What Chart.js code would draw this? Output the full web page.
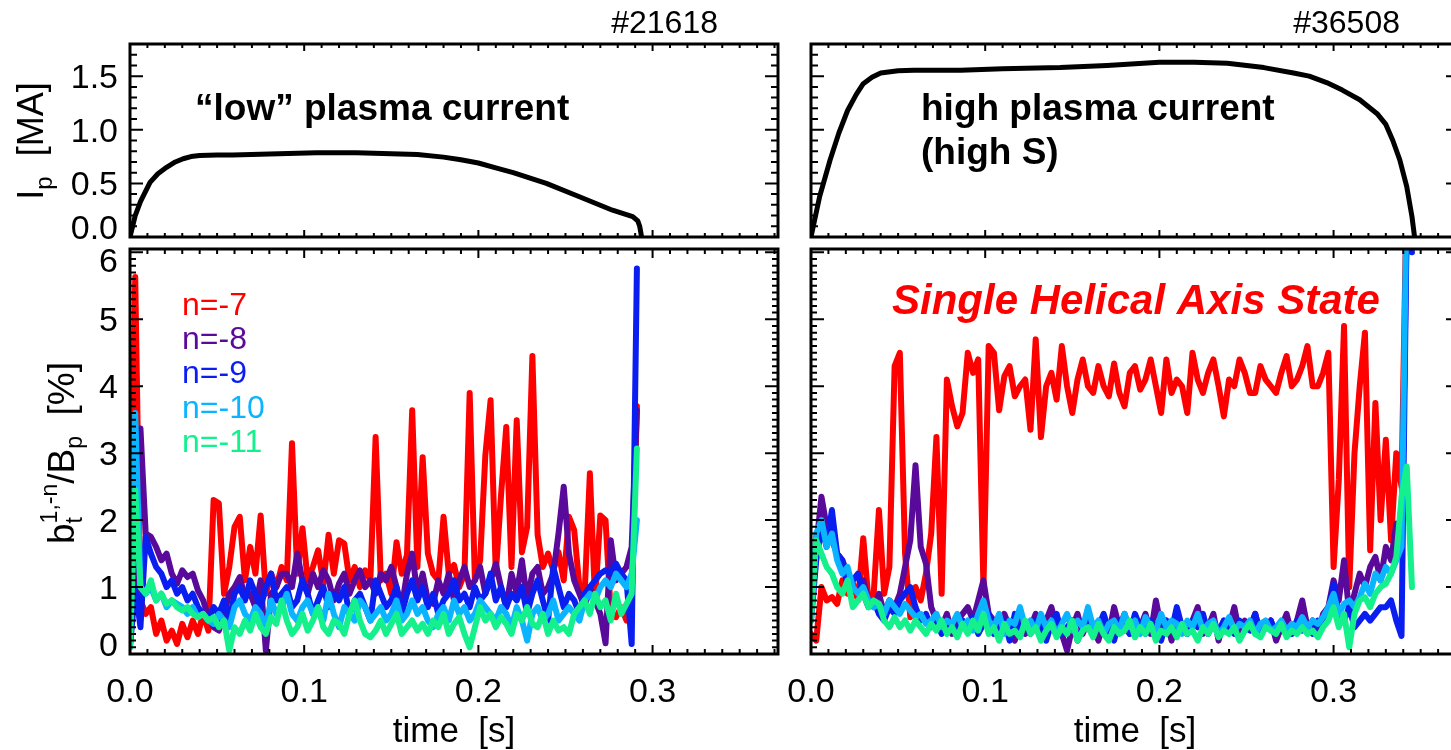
<!DOCTYPE html>
<html>
<head>
<meta charset="utf-8">
<script src="https://cdn.jsdelivr.net/npm/chart.js@4.4.1/dist/chart.umd.min.js"></script>
<style>
  html, body { margin: 0; padding: 0; background: #fff; overflow: hidden; }
  #wrap { position: relative; width: 1451px; height: 750px; overflow: hidden; }
  #wrap canvas { position: absolute; left: 0; top: 0; }
</style>
</head>
<body>
<div id="wrap">
  <canvas id="topL" width="1470" height="750"></canvas>
  <canvas id="botL" width="1470" height="750"></canvas>
  <canvas id="topR" width="1470" height="750"></canvas>
  <canvas id="botR" width="1470" height="750"></canvas>
</div>
<script>
// ---- shot #21618 ("low" current) ----
// sample times for the mode amplitudes, in ms
var tL_ms = [0,3,6,9,12,15,18,21,24,27,30,33,36,39,42,45,48,51,54,57,60,63,66,69,72,75,78,81,84,87,90,93,96,99,
  102,105,108,111,114,117,120,123,126,129,132,135,138,141,144,147,150,153,156,159,162,165,168,171,174,177,180,183,186,189,192,195,198,
  201,204,207,210,213,216,219,222,225,228,231,234,237,240,243,246,249,252,255,258,261,264,267,270,273,276,279,282,285,288,291];

// b_t^(1,n)/B_p in %
var n7L = [0.3,5.63,0.8,0.6,0.7,0.3,0.5,0.2,0.35,0.15,
  0.45,0.25,0.5,0.3,0.6,0.35,2.3,2.25,0.9,1.3,
  1.9,2.05,1.1,1.6,1.2,2.07,0.9,1.2,1.0,1.3,
  1.1,3.15,1.2,1.88,1.1,1.3,1.55,1.05,1.78,1.2,
  1.7,1.65,1.1,1.3,1.0,1.25,1.1,3.24,1.1,1.2,
  0.9,1.67,1.2,1.48,3.64,1.3,2.94,1.5,1.2,1.1,
  2.05,1.2,1.33,1.0,1.2,3.9,1.1,1.4,2.97,3.79,
  1.2,2.37,3.39,1.3,3.49,1.52,1.9,4.45,1.78,1.3,
  1.5,1.25,1.52,1.1,2.05,1.85,1.0,0.9,2.7,0.8,
  2.07,2.0,0.6,0.55,0.7,0.5,0.8,3.7];
var n8L = [0.2,1.2,3.37,1.8,1.75,1.6,1.4,1.5,1.2,1.05,
  1.25,1.15,1.2,0.95,0.8,0.55,0.4,0.35,0.6,0.9,
  1.0,1.15,0.85,0.9,0.7,1.1,0.05,0.9,1.0,1.2,
  1.2,1.0,1.5,1.1,0.9,1.2,1.0,1.25,1.1,0.8,
  1.05,1.2,0.9,1.1,1.25,1.0,1.1,0.9,1.2,1.1,
  1.3,1.0,0.7,1.2,1.5,0.9,1.2,0.8,0.75,1.1,
  0.9,1.2,0.8,1.1,1.3,1.0,1.1,1.3,0.9,1.1,
  1.35,1.0,0.7,1.2,0.9,1.4,0.8,1.2,1.3,0.9,
  1.0,1.2,1.8,2.5,1.5,1.1,0.9,0.7,1.0,0.8,
  0.6,0.16,1.7,1.1,1.2,1.3,1.6,3.64];
var n9L = [0.1,1.0,0.4,1.75,1.5,1.3,1.2,1.0,1.1,0.9,
  1.0,0.8,0.9,0.7,0.6,0.5,0.7,0.6,0.8,0.5,
  0.9,1.0,0.8,1.1,0.9,0.7,1.0,1.2,0.8,0.9,
  1.0,0.7,0.8,1.1,0.9,0.6,0.8,1.0,0.7,0.9,
  0.8,1.0,0.6,0.8,0.9,0.7,0.5,1.1,0.9,0.7,
  0.8,1.0,0.6,0.9,1.1,0.8,1.0,0.7,0.9,0.6,
  0.8,0.9,1.1,0.8,0.9,0.7,1.0,0.8,0.9,1.2,
  0.8,1.0,0.7,0.9,0.8,1.0,0.6,0.9,1.1,0.8,
  0.5,1.3,1.0,0.7,0.9,0.8,0.6,0.9,1.0,1.1,
  1.2,1.25,1.2,1.35,1.2,1.1,0.15,5.76];
var n10L = [0.2,3.6,1.0,0.9,1.0,0.8,0.9,0.7,0.8,0.75,
  0.7,0.6,0.7,0.55,0.6,0.5,0.45,0.6,0.5,0.4,
  0.7,0.8,0.6,0.5,0.7,0.6,0.4,0.8,0.6,0.7,
  0.9,0.6,0.5,0.7,0.8,0.6,0.7,0.5,0.9,0.6,
  0.4,0.7,0.6,0.5,0.8,0.7,0.5,0.6,0.7,0.5,
  0.6,0.8,0.5,0.6,0.8,0.6,0.7,0.5,0.4,0.6,
  0.7,0.5,0.8,0.6,0.7,0.5,0.6,0.8,0.7,0.6,
  0.5,0.7,0.6,0.4,0.7,0.5,0.2,0.6,0.7,0.5,
  0.6,0.8,0.5,0.6,0.7,0.6,0.5,0.8,0.9,0.8,
  1.0,1.1,1.0,1.2,1.1,1.0,1.2,2.0];
var n11L = [0.1,2.45,1.0,0.9,1.1,0.8,0.9,0.75,0.8,0.7,
  0.65,0.7,0.6,0.55,0.6,0.5,0.55,0.4,0.5,0.05,
  0.4,0.3,0.5,0.35,0.6,0.4,0.3,0.55,0.45,0.8,
  0.5,0.3,0.4,0.6,0.35,0.5,0.7,0.4,0.3,0.5,
  0.45,0.3,0.6,0.8,0.5,0.3,0.25,0.35,0.5,0.3,
  0.45,0.6,0.3,0.4,0.5,0.35,0.45,0.3,0.5,0.4,
  0.6,0.3,0.45,0.55,0.3,0.1,0.4,0.7,0.5,0.6,
  0.4,0.55,0.45,0.3,0.6,0.5,0.7,0.45,0.4,0.6,
  0.3,0.5,0.35,0.4,0.3,0.6,0.7,0.8,0.6,0.9,
  0.7,0.8,0.5,0.9,0.6,0.75,0.9,3.07];

// plasma current, MA
var ipL_t = [0,0.003,0.006,0.0115,0.016,0.021,0.026,0.0305,0.035,0.040,0.050,0.059,0.080,0.107,0.130,0.155,0.165,0.180,0.190,0.200,0.210,0.220,0.239,0.258,0.277,0.2886,0.2915,0.2926,0.2937];
var ipL = [0,0.2,0.33,0.51,0.59,0.65,0.70,0.73,0.75,0.76,0.765,0.765,0.775,0.785,0.785,0.775,0.77,0.745,0.72,0.69,0.645,0.6,0.5,0.375,0.25,0.19,0.15,0.1,0];

// ---- shot #36508 (high current, SHAx) ----
var tR_ms = [0,3,6,9,12,15,18,21,24,27,30,33,36,39,42,45,48,51,54,57,60,63,66,69,72,75,78,81,84,87,90,93,96,99,
  102,105,108,111,114,117,120,123,126,129,132,135,138,141,144,147,150,153,156,159,162,165,168,171,174,177,180,183,186,189,192,195,198,
  201,204,207,210,213,216,219,222,225,228,231,234,237,240,243,246,249,252,255,258,261,264,267,270,273,276,279,282,285,288,291,294,297,
  300,303,306,309,312,315,318,321,324,327,330,333,336,339,342,345];

var n7R = [0.3,0.2,1.0,0.8,0.85,0.75,1.1,0.9,1.06,0.8,
  1.73,0.8,0.9,2.15,0.9,1.3,4.3,4.5,1.5,0.55,
  1.0,0.8,1.2,1.8,3.24,0.9,4.1,3.7,3.4,3.6,
  4.5,4.2,4.4,1.0,4.6,4.5,3.64,4.15,4.3,3.85,
  4.0,4.1,3.35,4.7,3.24,4.0,4.2,3.8,4.6,4.0,
  3.6,4.1,4.4,4.0,3.9,4.3,4.0,3.85,4.34,3.9,
  3.7,4.2,4.3,3.95,4.1,4.4,4.0,3.6,4.4,3.9,
  4.1,4.0,3.6,4.5,4.1,3.9,4.2,4.4,4.0,3.55,
  4.1,4.0,4.4,4.2,3.9,3.9,4.3,4.1,4.0,3.9,
  4.2,4.45,4.0,4.1,4.3,4.6,4.0,4.0,4.2,4.5,
  1.3,2.6,4.9,1.0,3.0,4.0,4.8,1.55,3.75,2.0,
  3.2,1.7,3.0,2.5,7.0,6.5];
var n8R = [0.8,1.6,2.35,1.9,1.7,1.5,1.4,1.2,1.0,0.9,
  1.1,0.8,0.7,0.9,0.6,0.8,0.7,0.9,1.3,1.7,
  2.82,1.6,1.35,0.7,0.5,0.4,0.6,0.3,0.5,0.6,
  0.7,0.5,0.8,1.1,0.6,0.5,0.3,0.6,0.4,0.2,
  0.5,0.3,0.4,0.6,0.3,0.5,0.7,0.4,0.3,0.05,
  0.4,0.6,0.3,0.5,0.4,0.2,0.5,0.3,0.7,0.4,
  0.6,0.3,0.5,0.4,0.6,0.3,0.8,0.4,0.5,0.2,
  0.6,0.4,0.3,0.5,0.7,0.3,0.4,0.6,0.2,0.5,
  0.4,0.7,0.3,0.5,0.4,0.6,0.3,0.4,0.5,0.2,
  0.4,0.6,0.3,0.5,0.8,0.4,0.5,0.3,0.6,0.7,
  1.1,0.8,1.4,0.6,0.9,1.2,1.0,1.3,1.45,1.1,
  1.6,1.4,1.95,1.5,6.5,7.0];
var n9R = [0.5,1.4,1.9,1.6,2.15,1.5,1.4,1.0,1.1,1.2,
  0.9,0.7,0.8,0.6,0.5,0.7,0.6,0.8,0.9,1.0,
  0.7,0.5,0.6,0.4,0.5,0.3,0.45,0.4,0.35,0.5,
  0.4,0.55,0.3,0.45,0.6,0.3,0.4,0.5,0.2,0.6,
  0.35,0.4,0.3,0.5,0.4,0.2,0.45,0.6,0.3,0.4,
  0.5,0.2,0.4,0.55,0.3,0.4,0.6,0.35,0.2,0.5,
  0.4,0.3,0.6,0.4,0.3,0.5,0.4,0.2,0.5,0.35,
  0.7,0.4,0.3,0.5,0.4,0.6,0.3,0.45,0.35,0.5,
  0.4,0.3,0.5,0.4,0.35,0.6,0.3,0.4,0.5,0.3,
  0.45,0.4,0.3,0.5,0.35,0.4,0.3,0.5,0.45,0.6,
  1.05,0.6,0.5,0.7,0.4,0.5,0.6,0.5,0.6,0.7,
  0.7,0.8,0.5,0.27,6.5,6.0];
var n10R = [0.6,1.8,2.0,1.6,1.8,1.4,1.2,1.3,1.0,0.9,
  1.0,0.8,0.7,0.75,0.6,0.8,0.7,0.6,0.75,0.65,
  0.55,0.6,0.45,0.5,0.6,0.4,0.5,0.45,0.6,0.4,
  0.5,0.35,0.6,0.8,0.5,0.4,0.6,0.3,0.5,0.45,
  0.7,0.4,0.5,0.35,0.6,0.4,0.5,0.3,0.45,0.6,
  0.35,0.5,0.4,0.7,0.4,0.5,0.3,0.45,0.5,0.35,
  0.6,0.4,0.5,0.3,0.55,0.4,0.35,0.6,0.4,0.5,
  0.45,0.3,0.5,0.4,0.6,0.35,0.45,0.5,0.3,0.4,
  0.55,0.35,0.45,0.4,0.5,0.3,0.45,0.5,0.35,0.4,
  0.5,0.35,0.45,0.4,0.55,0.4,0.5,0.45,0.55,0.7,
  0.9,0.6,0.75,0.8,0.7,0.85,1.05,0.9,1.2,1.1,
  1.3,1.2,1.4,1.6,7.0,7.0];
var n11R = [0.5,1.7,1.5,1.3,1.2,1.0,0.9,1.1,0.7,0.8,
  0.9,0.7,0.8,0.75,0.5,0.4,0.55,0.4,0.5,0.35,
  0.5,0.4,0.3,0.45,0.35,0.5,0.3,0.4,0.25,0.45,
  0.3,0.5,0.35,0.6,0.3,0.4,0.2,0.45,0.3,0.35,
  0.25,0.5,0.3,0.4,0.2,0.35,0.45,0.25,0.4,0.3,
  0.5,0.2,0.35,0.4,0.25,0.45,0.3,0.2,0.4,0.3,
  0.35,0.5,0.25,0.4,0.3,0.45,0.2,0.35,0.3,0.4,
  0.25,0.45,0.3,0.35,0.2,0.4,0.3,0.45,0.25,0.35,
  0.3,0.4,0.2,0.35,0.45,0.3,0.25,0.4,0.35,0.3,
  0.45,0.25,0.35,0.3,0.4,0.3,0.35,0.25,0.4,0.5,
  0.7,0.4,0.6,0.1,0.6,0.8,0.85,0.7,0.9,1.0,
  1.05,1.2,1.45,2.35,2.8,1.0];

var ipR_t = [0,0.005,0.011,0.016,0.021,0.026,0.030,0.035,0.040,0.050,0.059,0.086,0.110,0.143,0.170,0.200,0.220,0.239,0.260,0.277,0.286,0.296,0.305,0.315,0.325,0.330,0.334,0.338,0.342,0.345,0.3465];
var ipR = [0,0.38,0.72,0.97,1.18,1.33,1.43,1.49,1.53,1.55,1.555,1.555,1.57,1.58,1.60,1.63,1.63,1.62,1.58,1.53,1.50,1.44,1.37,1.28,1.15,1.05,0.9,0.72,0.47,0.19,0];

var modeNames = ["n=-7", "n=-8", "n=-9", "n=-10", "n=-11"];
var modeColors = ["#ff0000", "#5a0a9a", "#0a1ef0", "#0ab4ff", "#14f08c"];
var xTickLabels = ["0.0", "0.1", "0.2", "0.3"];

var FONT = '"Liberation Sans", Arial, Helvetica, sans-serif';
var W = 1470, H = 750;
var TRACE_W = 6;   // mode traces
var IP_W = 5;      // plasma current

function pairs(t, v) {
  return v.map(function (y, i) { return { x: t[i], y: y }; });
}
var tL = tL_ms.map(function (ms) { return ms / 1000; });
var tR = tR_ms.map(function (ms) { return ms / 1000; });

function isMajor(v, step) {
  return Math.abs(v / step - Math.round(v / step)) < 1e-6;
}

// IDL style box: inward ticks on all four sides, labels outside
var idlFrame = {
  id: "idlFrame",
  afterDatasetsDraw: function (chart, args, o) {
    var ctx = chart.ctx, a = chart.chartArea;
    var x = chart.scales.x, y = chart.scales.y;
    ctx.save();
    ctx.strokeStyle = "#000";
    ctx.lineWidth = 2;
    ctx.beginPath();
    var n = Math.round((x.max - x.min) / o.xMinor);
    for (var k = 1; k <= n; k++) {
      var v = x.min + k * o.xMinor;
      var px = x.getPixelForValue(v);
      var len = isMajor(v, o.xMajor) ? o.xLen[0] : o.xLen[1];
      ctx.moveTo(px, a.bottom); ctx.lineTo(px, a.bottom - len);
      ctx.moveTo(px, a.top); ctx.lineTo(px, a.top + len);
    }
    n = Math.round((y.max - y.min) / o.yMinor);
    for (k = 1; k <= n; k++) {
      v = y.min + k * o.yMinor;
      var py = y.getPixelForValue(v);
      len = isMajor(v, o.yMajor) ? o.yLen[0] : o.yLen[1];
      ctx.moveTo(a.left, py); ctx.lineTo(a.left + len, py);
      ctx.moveTo(a.right, py); ctx.lineTo(a.right - len, py);
    }
    ctx.stroke();
    ctx.lineWidth = 3;
    ctx.strokeRect(a.left, a.top, a.right - a.left, a.bottom - a.top);

    ctx.fillStyle = "#000";
    ctx.font = "34px " + FONT;
    if (o.yLabels) {
      ctx.textAlign = "right";
      ctx.textBaseline = "alphabetic";
      o.yLabels.forEach(function (lab) {
        var cy = y.getPixelForValue(parseFloat(lab));
        cy = Math.max(a.top + 11, Math.min(a.bottom - 10, cy));
        ctx.fillText(lab, a.left - 12, cy + 12);
      });
    }
    if (o.xLabels) {
      ctx.textAlign = "center";
      o.xLabels.forEach(function (lab) {
        ctx.fillText(lab, x.getPixelForValue(parseFloat(lab)), a.bottom + 48);
      });
    }
    ctx.restore();
  }
};

// free text: annotations, legend, axis titles (rich text for sub/superscripts)
var notes = {
  id: "notes",
  afterDraw: function (chart, args, o) {
    var ctx = chart.ctx;
    ctx.save();
    (o.items || []).forEach(function (it) {
      ctx.fillStyle = it.color || "#000";
      ctx.textBaseline = "alphabetic";
      if (it.parts) {
        var total = 0;
        it.parts.forEach(function (p) {
          ctx.font = p.s + "px " + FONT;
          p.w = ctx.measureText(p.t).width;
          if (!p.stay) total += p.w;
        });
        ctx.translate(it.x, it.y);
        if (it.rot) ctx.rotate(-Math.PI / 2);
        ctx.textAlign = "left";
        var cx = -total / 2;
        it.parts.forEach(function (p) {
          ctx.font = p.s + "px " + FONT;
          ctx.fillText(p.t, cx, p.dy || 0);
          if (!p.stay) cx += p.w;
        });
        ctx.setTransform(1, 0, 0, 1, 0, 0);
      } else {
        ctx.font = (it.style || "") + " " + (it.weight || "normal") + " " + it.size + "px " + FONT;
        ctx.textAlign = it.align || "left";
        ctx.fillText(it.text, it.x, it.y);
      }
    });
    ctx.restore();
  }
};

function makePanel(id, rect, yMax, datasets, frame, items) {
  return new Chart(document.getElementById(id), {
    type: "line",
    data: { datasets: datasets },
    options: {
      responsive: false,
      animation: false,
      events: [],
      devicePixelRatio: 1,
      layout: { padding: { left: rect[0], top: rect[1], right: W - rect[2], bottom: H - rect[3] } },
      elements: { point: { radius: 0 }, line: { tension: 0, borderJoinStyle: "round", borderCapStyle: "round" } },
      scales: {
        x: { type: "linear", min: 0, max: 0.372, display: false },
        y: { type: "linear", min: 0, max: yMax, display: false }
      },
      plugins: {
        legend: { display: false },
        tooltip: { enabled: false },
        idlFrame: frame,
        notes: { items: items }
      }
    },
    plugins: [idlFrame, notes]
  });
}

// n=-7 at the back, n=-11 drawn last on top
function modeSets(t, series) {
  return series.map(function (s, i) {
    return { label: modeNames[i], data: pairs(t, s), borderColor: modeColors[i],
             borderWidth: TRACE_W, order: series.length - 1 - i };
  });
}

var topFrame = { xMajor: 0.1, xMinor: 0.01, xLen: [7, 4], yMajor: 0.5, yMinor: 0.1, yLen: [13, 7] };
var botFrame = { xMajor: 0.1, xMinor: 0.01, xLen: [9, 5], yMajor: 1, yMinor: 0.1, yLen: [13, 6] };

var ipTitle = { rot: true, x: 43, y: 141, parts: [
  { t: "I", s: 36 }, { t: "p", s: 24, dy: 9 }, { t: "  [MA]", s: 36 }] };
var bTitle = { rot: true, x: 74, y: 453, parts: [
  { t: "b", s: 37 }, { t: "t", s: 23, dy: 8, stay: true }, { t: "1,-n", s: 23, dy: -17 },
  { t: "/B", s: 37 }, { t: "p", s: 23, dy: 8 }, { t: "  [%]", s: 37 }] };

makePanel("topL", [130, 44, 778, 237], 1.8,
  [{ data: pairs(ipL_t, ipL), borderColor: "#000", borderWidth: IP_W }],
  Object.assign({ yLabels: ["0.0", "0.5", "1.0", "1.5"] }, topFrame),
  [{ text: "#21618", x: 718, y: 33, size: 32, align: "right" },
   { text: "\u201clow\u201d plasma current", x: 195, y: 120, size: 37, weight: "bold" },
   ipTitle]);

makePanel("botL", [130, 249, 778, 654], 6.05,
  modeSets(tL, [n7L, n8L, n9L, n10L, n11L]),
  Object.assign({ yLabels: ["0", "1", "2", "3", "4", "5", "6"], xLabels: xTickLabels }, botFrame),
  modeNames.map(function (nm, i) {
    return { text: nm, x: 182, y: 315 + i * 34.2, size: 32, color: modeColors[i] };
  }).concat([
    { text: "time  [s]", x: 454, y: 742, size: 35, align: "center" },
    bTitle]));

makePanel("topR", [811, 44, 1459, 237], 1.8,
  [{ data: pairs(ipR_t, ipR), borderColor: "#000", borderWidth: IP_W }],
  topFrame,
  [{ text: "#36508", x: 1400, y: 33, size: 32, align: "right" },
   { text: "high plasma current", x: 921, y: 120, size: 37, weight: "bold" },
   { text: "(high S)", x: 921, y: 164, size: 37, weight: "bold" }]);

makePanel("botR", [811, 249, 1459, 654], 6.05,
  modeSets(tR, [n7R, n8R, n9R, n10R, n11R]),
  Object.assign({ xLabels: xTickLabels }, botFrame),
  [{ text: "Single Helical Axis State", x: 892, y: 314, size: 42, weight: "bold", style: "italic", color: "#ff0000" },
   { text: "time  [s]", x: 1135, y: 742, size: 35, align: "center" }]);
</script>
</body>
</html>
